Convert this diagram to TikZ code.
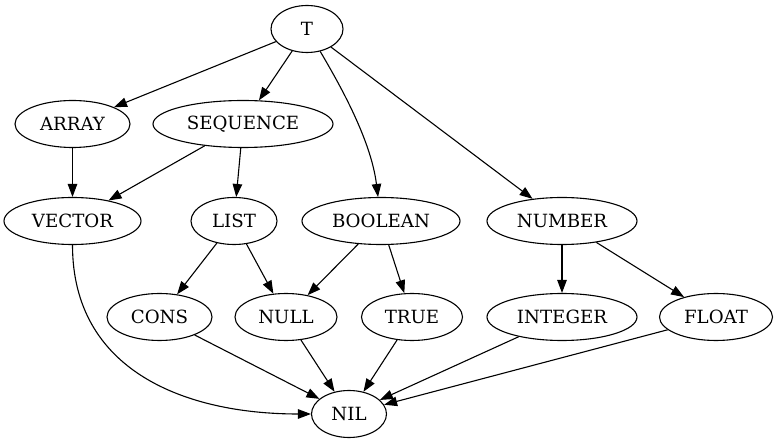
\documentclass[tikz,border=0pt]{standalone}
\usepackage{fontspec}
\setmainfont{DejaVu Serif}
\usepackage{tikz}
\usetikzlibrary{calc, positioning, arrows.meta, shapes.geometric}

\begin{document}
\begin{tikzpicture}[x=1pt, y=-1pt, line width=1.1pt,
	typ/.style={draw, ellipse, text centered, inner sep=0pt, minimum height=47pt, font=\fontsize{18.2}{21}\selectfont},
	isa/.style={-{Triangle[length=13pt, width=9.5pt]}}]

		\useasboundingbox (0,0) rectangle (779,443);

		% nodes - one row per level %
		\node[typ, minimum width=72pt] (t) at (307,29) {T};
		\node[typ, minimum width=115pt] (array) at (72.5,124) {ARRAY};
		\node[typ, minimum width=180pt] (sequence) at (243,124) {SEQUENCE};
		\node[typ, minimum width=137pt] (vector) at (72.5,221) {VECTOR};
		\node[typ, minimum width=86pt] (list) at (234,221) {LIST};
		\node[typ, minimum width=158pt] (boolean) at (381,221) {BOOLEAN};
		\node[typ, minimum width=150pt] (number) at (562,221) {NUMBER};
		\node[typ, minimum width=105pt] (cons) at (159.5,317) {CONS};
		\node[typ, minimum width=102pt] (null) at (286,317) {NULL};
		\node[typ, minimum width=101pt] (true) at (412,317) {TRUE};
		\node[typ, minimum width=150pt] (integer) at (562,317) {INTEGER};
		\node[typ, minimum width=113pt] (float) at (716,317) {FLOAT};
		\node[typ, minimum width=75pt] (nil) at (349,414) {NIL};

		% edges %
		\draw[isa] (t) -- (array);
		\draw[isa] (t) -- (sequence);
		\draw[isa] (t) .. controls (340,85) and (371,140) .. (boolean);
		\draw[isa] (t) -- (number);
		\draw[isa] (array) -- (vector);
		\draw[isa] (sequence) -- (vector);
		\draw[isa] (sequence) -- (list);
		\draw[isa] (list) -- (cons);
		\draw[isa] (list) -- (null);
		\draw[isa] (boolean) -- (null);
		\draw[isa] (boolean) -- (true);
		\draw[isa] (number) -- (integer);
		\draw[isa] (number) -- (float);
		\draw[isa] (vector.south) to[out=-90, in=180, looseness=1.1] (nil.west);
		\draw[isa] (cons) -- (nil);
		\draw[isa] (null) -- (nil);
		\draw[isa] (true) -- (nil);
		\draw[isa] (integer) -- (nil);
		\draw[isa] (float) -- (nil);

\end{tikzpicture}
\end{document}
